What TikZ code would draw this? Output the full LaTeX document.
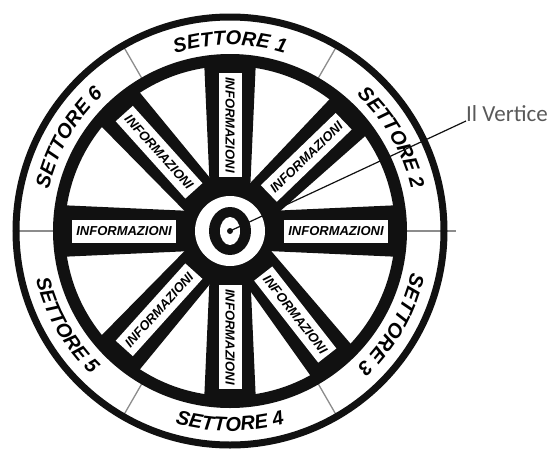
\documentclass[tikz,border=0pt]{standalone}
\usepackage{fontspec}
\setmainfont{Liberation Sans}
\newfontfamily\verticefont{Carlito}
\usepackage{tikz}
\usetikzlibrary{decorations.text}
\definecolor{Ink}{HTML}{111111}
\definecolor{LineGray}{HTML}{8C8C8C}
\definecolor{LabelGray}{HTML}{595959}
\newcommand\settorefont{\fontsize{20}{20}\selectfont\bfseries\itshape}

\begin{document}
\begin{tikzpicture}[x=1pt,y=1pt,
  spoke/.style={fill=Ink},
  infobox/.style={fill=white,minimum width=104,minimum height=23,inner sep=0pt,font=\fontsize{13}{13}\selectfont\bfseries\itshape},
  divider/.style={draw=LineGray,line width=1.3},
  settore/.style={decorate,decoration={text along path,text align=center,text={|\settorefont|#1}}}]
  \useasboundingbox (-230,-217) rectangle (324,231);
  % sector dividers
  \foreach \a/\r in {0/226,60/214,120/214,180/214,240/214,300/214}
    \draw[divider] (\a:171) -- (\a:\r);
  % rim and inner ring
  \draw[Ink,line width=7] (0,0) circle (214);
  \draw[Ink,line width=12] (0,0) circle (171);
  % spokes
  \foreach \a/\t [count=\i] in {90/-90,44/44,0/0,-52/-52,-90/-90,228/48,180/0,132/-48} {
    \fill[spoke,rotate=\a] (38,-20) -- (172,-26) -- (172,26) -- (38,20) -- cycle;
    \node[infobox,rotate=\t] (info\i) at (\a:106) {INFORMAZIONI};
  }
  % hub
  \fill[Ink] (0,0) circle (46);
  \fill[white] (0,0) circle (35);
  \fill[Ink] (0,0) ellipse (21 and 24);
  \fill[white] (0,0) ellipse (10 and 14);
  \node[circle,fill=Ink,inner sep=0pt,minimum size=6] (vertice) at (0,0) {};
  % sector labels
  \path[settore={SETTORE 1}] (120:186) arc[start angle=120,end angle=60,radius=186];
  \path[settore={SETTORE 2}] (60:186) arc[start angle=60,end angle=0,radius=186];
  \path[settore={SETTORE 3}] (0:186) arc[start angle=0,end angle=-60,radius=186];
  \path[settore={SETTORE 4}] (-120:200) arc[start angle=-120,end angle=-60,radius=200];
  \path[settore={SETTORE 5}] (180:200) arc[start angle=180,end angle=240,radius=200];
  \path[settore={SETTORE 6}] (180:186) arc[start angle=180,end angle=120,radius=186];
  % label
  \node[font=\verticefont\fontsize{23}{23}\selectfont,text=LabelGray,inner sep=0pt,anchor=base west] (etichetta) at (236,110) {Il Vertice};
  \draw[Ink,line width=1.2] (vertice.center) -- (etichetta.base west);
\end{tikzpicture}
\end{document}
